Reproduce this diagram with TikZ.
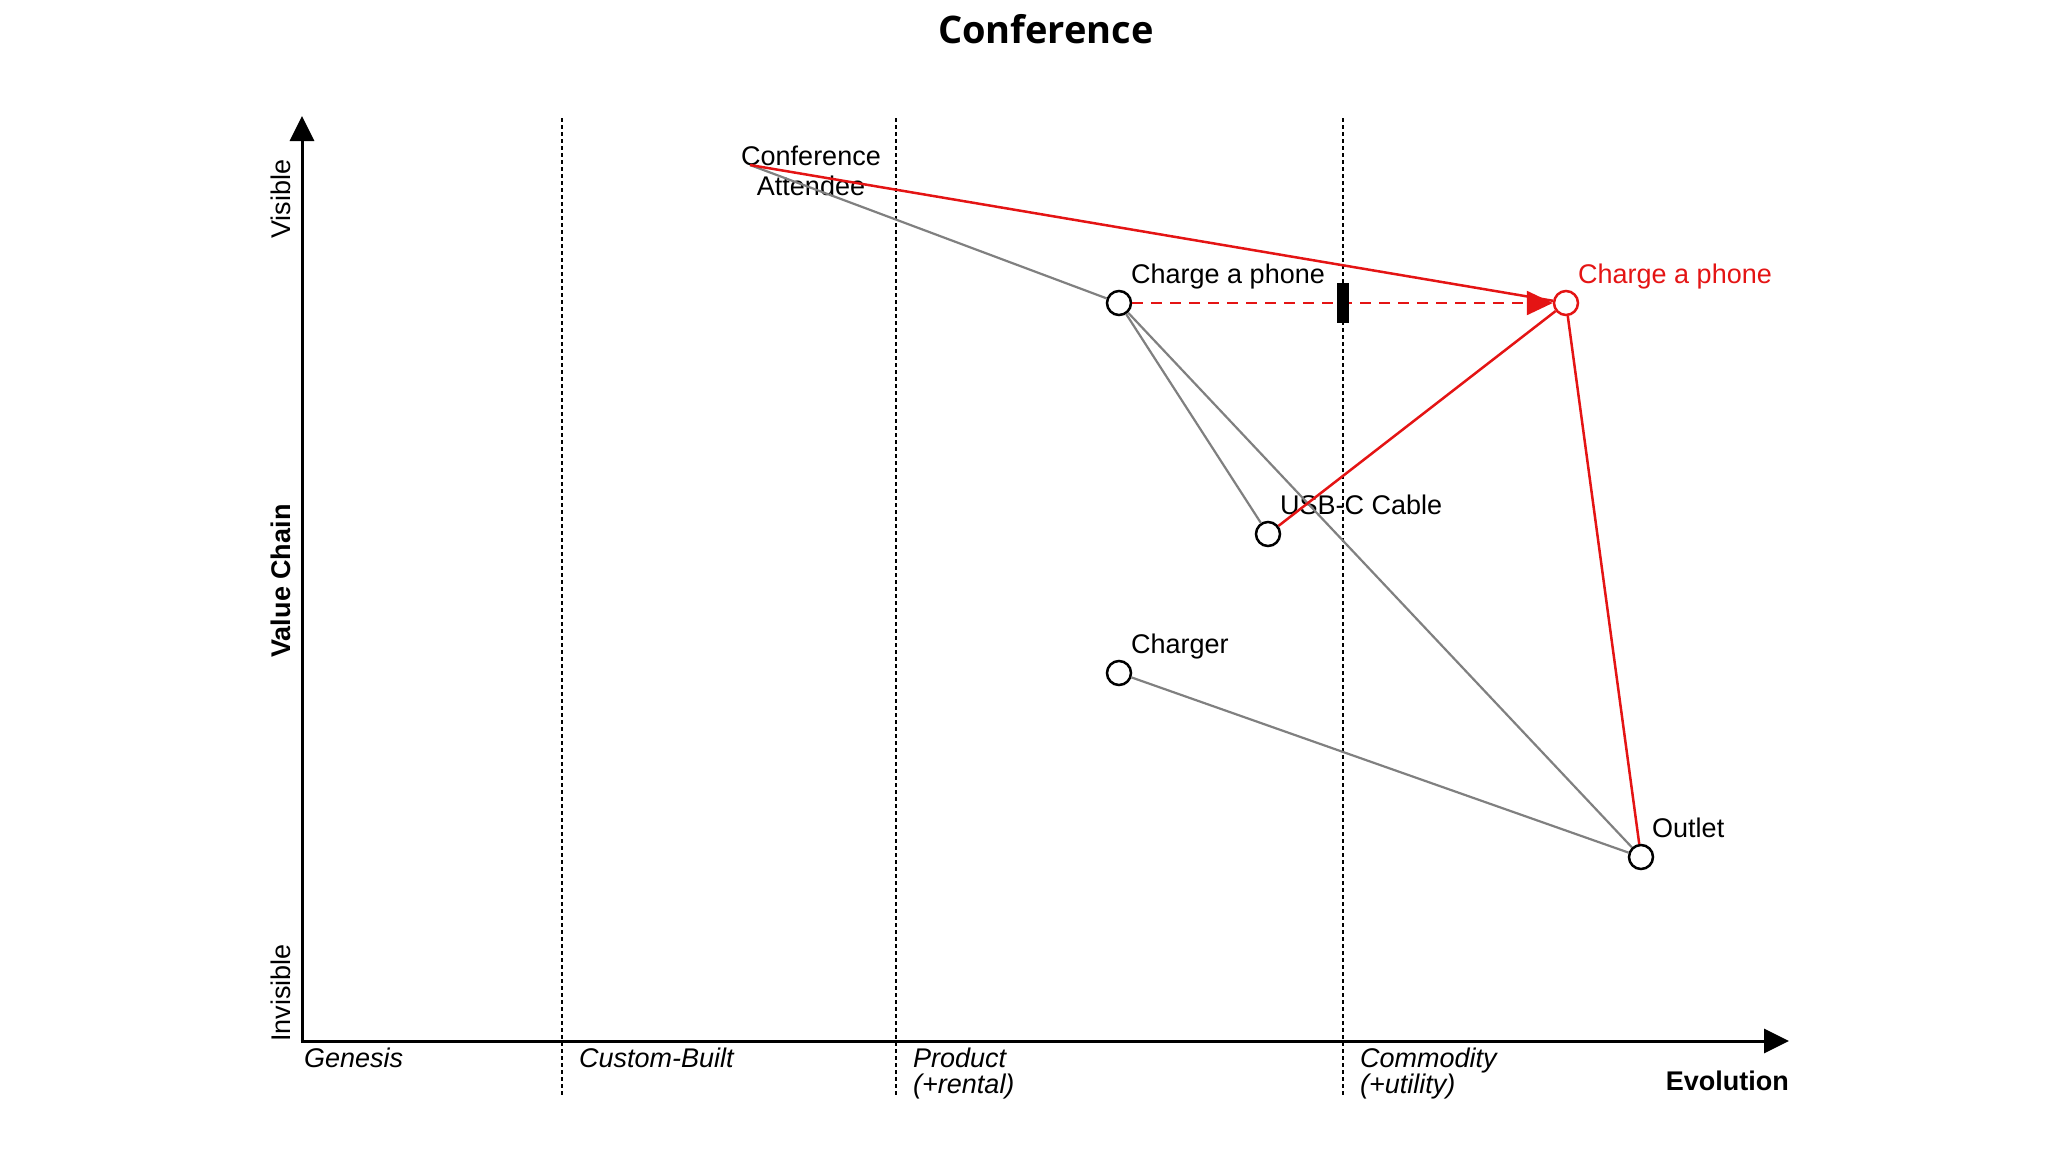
\documentclass[tikz,border=0pt]{standalone}
\usepackage{fontspec}
\setmainfont{Liberation Sans}
\newfontfamily\titlefont{Open Sans}
\definecolor{mapred}{RGB}{228, 20, 20}
\definecolor{linkgray}{RGB}{128, 128, 128}
\usetikzlibrary{arrows.meta, positioning}

\begin{document}
\begin{tikzpicture}[x=1pt, y=-1pt,
  comp/.style={circle, draw=black, fill=white, line width=2.5pt, minimum size=24pt, inner sep=0pt},
  lbl/.style={font=\fontsize{27}{31}\selectfont, anchor=base west, inner sep=0pt},
  stage/.style={font=\fontsize{27}{26}\selectfont\itshape, anchor=north west, align=left, inner sep=0pt},
  axis/.style={line width=3pt, -{Triangle[length=25pt, width=24pt]}},
  divider/.style={line width=2.8pt, dash pattern=on 3.5pt off 3.5pt},
  link/.style={draw=linkgray, line width=2.2pt},
  move/.style={draw=mapred, line width=2.5pt}
]
  \useasboundingbox (0,0) rectangle (2048,1152);
  \node[font=\titlefont\bfseries\fontsize{38}{44}\selectfont] (title) at (1046,29) {Conference};

  \coordinate (origin) at (302,1041);
  \coordinate (ytop) at (302,116);
  \coordinate (xend) at (1789,1041);
  \foreach \x in {562, 896, 1343}
    \draw[divider] (\x,118) -- (\x,1097);
  \draw[axis] ([yshift=1.5pt]origin) -- (ytop);
  \draw[axis] ([xshift=-1.5pt]origin) -- (xend);

  \node[font=\fontsize{27}{31}\selectfont, rotate=90] (visible) at (281,199) {Visible};
  \node[font=\fontsize{27}{31}\selectfont\bfseries, rotate=90] (valuechain) at (281,581) {Value Chain};
  \node[font=\fontsize{27}{31}\selectfont, rotate=90] (invisible) at (281,993) {Invisible};

  \node[stage] (genesis) at (304,1048) {Genesis};
  \node[stage] (custom) at (579,1048) {Custom-Built};
  \node[stage] (product) at (913,1048) {Product\\(+rental)};
  \node[stage] (commodity) at (1360,1048) {Commodity\\(+utility)};
  \node[font=\fontsize{27}{31}\selectfont\bfseries, anchor=base east, inner sep=0pt] (evolution) at (1789,1090) {Evolution};

  \coordinate (attendee) at (750,165);
  \node[font=\fontsize{27}{30}\selectfont, align=center, inner sep=0pt] (attendeelbl) at (811,171) {Conference\\Attendee};
  \node[comp] (phone) at (1119,303) {};
  \node[comp, draw=mapred] (phonenew) at (1566,303) {};
  \node[comp] (cable) at (1268,534) {};
  \node[comp] (charger) at (1119,673) {};
  \node[comp] (outlet) at (1641,857) {};

  \node[lbl] (phonelbl) at (1131,283) {Charge a phone};
  \node[lbl, text=mapred] (phonenewlbl) at (1578,283) {Charge a phone};
  \node[lbl] (cablelbl) at (1280,514) {USB-C Cable};
  \node[lbl] (chargerlbl) at (1131,653) {Charger};
  \node[lbl] (outletlbl) at (1652,837) {Outlet};

  \draw[link] (attendee) -- (phone);
  \draw[link] (phone) -- (cable);
  \draw[link] (phone) -- (outlet);
  \draw[link] (charger) -- (outlet);
  \draw[move] (attendee) -- (phonenew);
  \draw[move] (cable) -- (phonenew);
  \draw[move] (phonenew) -- (outlet);
  \draw[move, dash pattern=on 11pt off 8pt, -{Triangle[length=26pt, width=24pt]}] (phone) -- (phonenew);
  \node[fill=black, minimum width=12pt, minimum height=40pt, inner sep=0pt] (inertia) at (1343,303) {};
\end{tikzpicture}
\end{document}
